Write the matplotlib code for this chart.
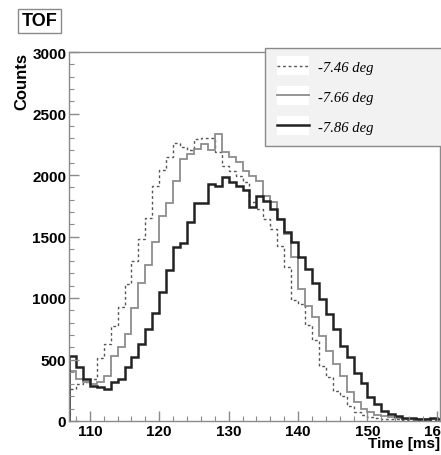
import numpy as np
import matplotlib
matplotlib.use("Agg")
import matplotlib.pyplot as plt
from matplotlib.lines import Line2D
from matplotlib.patches import Rectangle
from matplotlib.legend_handler import HandlerBase

# 1 ms bins from 107 to 161 ms
bin_edges = np.arange(107, 162)

counts_746 = [260, 300, 320, 340, 510, 630, 770, 930, 1110, 1300,
              1480, 1650, 1910, 2040, 2150, 2260, 2230, 2200, 2290, 2300,
              2300, 2190, 2075, 2034, 1990, 1940, 1780, 1720, 1640, 1560,
              1420, 1255, 983, 950, 778, 655, 450, 360, 245, 205,
              123, 70, 45, 30, 25, 15, 15, 15, 12, 12,
              10, 10, 10, 10]

counts_766 = [410, 341, 314, 300, 314, 369, 532, 600, 710, 915,
              1120, 1270, 1452, 1665, 1775, 1952, 2130, 2170, 2210, 2250,
              2200, 2333, 2187, 2146, 2105, 2033, 1992, 1951, 1830, 1780,
              1640, 1520, 1330, 1073, 935, 846, 691, 569, 463, 366,
              235, 154, 100, 70, 50, 40, 30, 22, 18, 15,
              15, 14, 14, 14]

counts_786 = [530, 437, 340, 287, 280, 262, 320, 340, 437, 519,
              628, 751, 874, 1045, 1228, 1414, 1445, 1616, 1772, 1772,
              1930, 1913, 1983, 1943, 1913, 1880, 1740, 1830, 1790, 1723,
              1642, 1536, 1455, 1334, 1232, 1118, 994, 872, 749, 606,
              520, 388, 308, 197, 137, 82, 55, 41, 27, 22,
              19, 19, 25, 20]

labels = ["-7.46 deg", "-7.66 deg", "-7.86 deg"]

frame_col = "#8a8a8a"
styles = [
    dict(color="#555555", linestyle=(0, (2, 2)), linewidth=1.0),
    dict(color="#8c8c8c", linestyle="-", linewidth=1.3),
    dict(color="#222222", linestyle="-", linewidth=1.8),
]


class BoxLineHandler(HandlerBase):
    # legend sample drawn as a line on a small white box
    def create_artists(self, legend, orig, xdescent, ydescent, width, height,
                       fontsize, trans):
        box = Rectangle((-xdescent, -ydescent - 0.45 * height), width,
                        1.9 * height, facecolor="white", edgecolor="none",
                        transform=trans)
        y = height / 2 - ydescent
        ln = Line2D([-xdescent, -xdescent + width], [y, y],
                    color=orig.get_color(), linestyle=orig.get_linestyle(),
                    linewidth=orig.get_linewidth(), transform=trans)
        if orig.get_linestyle() != "-":
            ln.set_dashes((2, 2))
        return [box, ln]


fig = plt.figure(figsize=(4.41, 4.56), dpi=100)
ax = fig.add_axes([69 / 441, 1 - 422 / 456, 371 / 441, 369 / 456])

for vals, st, lab in zip([counts_746, counts_766, counts_786], styles, labels):
    ax.stairs(vals, bin_edges, label=lab, **st)

ax.set_xlim(107, 160.45)
ax.set_ylim(0, 3000)
ax.set_xticks(np.arange(110, 161, 10))
ax.set_xticks(np.arange(108, 161, 2), minor=True)
ax.set_yticks(np.arange(0, 3001, 500))
ax.set_yticks(np.arange(0, 3001, 100), minor=True)

for s in ax.spines.values():
    s.set_color(frame_col)
    s.set_linewidth(1.0)

ax.tick_params(which="both", direction="in", color=frame_col,
               top=False, right=False)
ax.tick_params(which="major", length=7, width=1.0, labelsize=11, pad=2)
ax.tick_params(which="minor", length=3.5, width=0.8)
for t in ax.get_xticklabels() + ax.get_yticklabels():
    t.set_fontweight("bold")
    t.set_fontfamily("Liberation Sans")

ax.set_ylabel("Counts", loc="top", fontsize=12, fontweight="bold",
              family="Liberation Sans", labelpad=2)
ax.set_xlabel("Time [ms]", loc="right", fontsize=11, fontweight="bold",
              family="Liberation Sans", labelpad=-1)

handles = [Line2D([], [], **st) for st in styles]
leg = ax.legend(handles, labels, loc="upper left",
                bbox_to_anchor=(265 / 441, 1 - 141 / 456, 190 / 441, 92 / 456),
                bbox_transform=fig.transFigure, mode="expand",
                frameon=True, fancybox=False,
                facecolor="#f2f2f2", edgecolor=frame_col, framealpha=1,
                prop={"family": "Liberation Serif", "style": "italic",
                      "size": 10.5},
                handler_map={Line2D: BoxLineHandler()},
                handlelength=2.2, handletextpad=0.6, labelspacing=1.15,
                borderpad=0.85, borderaxespad=0)
leg.get_frame().set_linewidth(1.0)

fig.text(22 / 441, 1 - 22 / 456, "TOF", fontsize=13, fontweight="bold",
         family="Liberation Sans", va="center", ha="left",
         bbox=dict(boxstyle="square,pad=0.2", facecolor="white",
                   edgecolor=frame_col, linewidth=1.0))

fig.savefig("out.png", dpi=100)
